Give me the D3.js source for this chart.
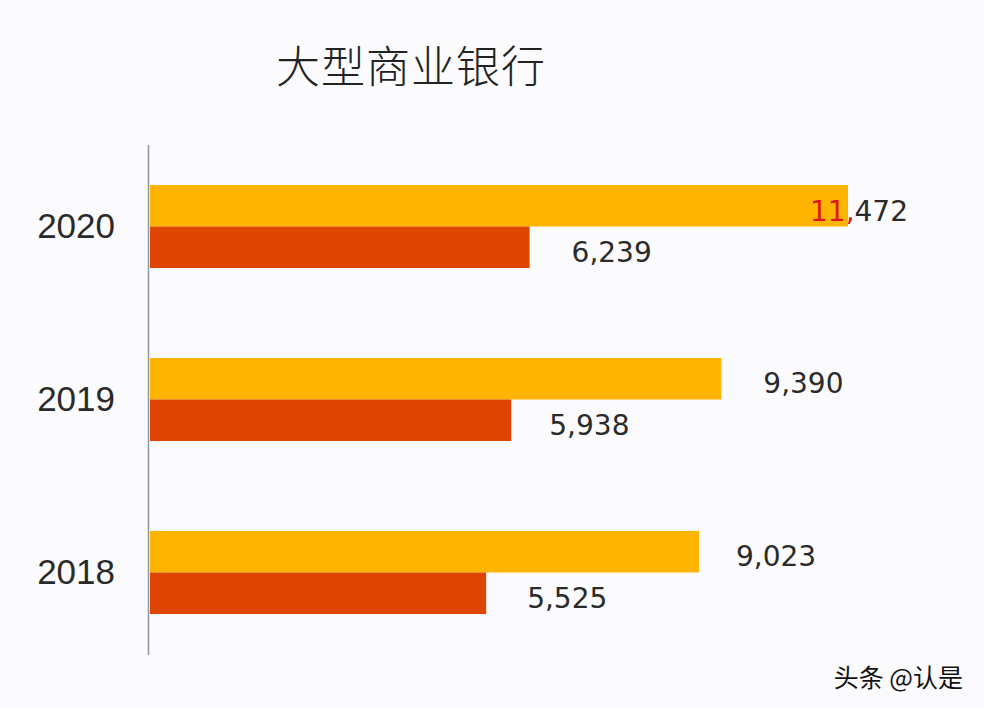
<!DOCTYPE html>
<html>
<head>
<meta charset="utf-8">
<script src="https://cdn.jsdelivr.net/npm/d3@7"></script>
<style>
  html, body { margin: 0; padding: 0; background: #fbfafc; }
  svg { display: block; }
</style>
</head>
<body>
<svg id="chart" width="984" height="708"></svg>
<script>
// ---- data ----
const years = ["2020", "2019", "2018"];
const seriesNames = ["A", "B"];
const seriesA = [11472, 9390, 9023];
const seriesB = [6239, 5938, 5525];
const title = "大型商业银行";
const watermark = "头条 @认是";

// ---- layout (not data) ----
const W = 984, H = 708;
const colors = ["#ffb400", "#de4500"];
const labelDx = [[-38, 42], [42, 38], [37, 41]];

const svg = d3.select("#chart");
svg.append("rect").attr("width", W).attr("height", H).attr("fill", "#fbfafc");

const x = d3.scaleLinear().domain([0, 11472]).range([150, 848]);
const y = d3.scaleBand().domain(years).range([185, 614]).paddingInner(0.52).paddingOuter(0);
const yInner = d3.scaleBand().domain(seriesNames).range([0, y.bandwidth()]);

const fmt = d3.format(",");

// title
svg.append("text")
  .attr("x", 411).attr("y", 64)
  .attr("text-anchor", "middle")
  .attr("dominant-baseline", "central")
  .attr("font-family", "'Noto Sans CJK SC', sans-serif")
  .attr("font-size", 44)
  .attr("font-weight", 300)
  .attr("letter-spacing", 1)
  .attr("fill", "#222")
  .text(title);

// axis line
svg.append("line")
  .attr("x1", 148.5).attr("x2", 148.5)
  .attr("y1", 145).attr("y2", 655)
  .attr("stroke", "#8c98a2").attr("stroke-width", 1.5);

// year labels via axis
const yAxis = svg.append("g")
  .attr("transform", "translate(148,0)")
  .call(d3.axisLeft(y).tickSize(0).tickPadding(33));
yAxis.select(".domain").remove();
yAxis.selectAll("text")
  .attr("font-family", "'Liberation Sans', Arial, sans-serif")
  .attr("font-size", 35)
  .attr("fill", "#2a2a2a");

// bars
const rows = years.map((yr, i) => ({ year: yr, i, vals: [seriesA[i], seriesB[i]] }));

const groups = svg.selectAll("g.grp").data(rows).enter().append("g")
  .attr("class", "grp")
  .attr("transform", d => `translate(0,${y(d.year)})`);

groups.selectAll("rect").data(d => d.vals.map((v, k) => ({ v, k, i: d.i })))
  .enter().append("rect")
  .attr("x", x(0))
  .attr("y", d => yInner(seriesNames[d.k]))
  .attr("width", d => x(d.v) - x(0))
  .attr("height", yInner.bandwidth())
  .attr("fill", d => colors[d.k]);

// value labels
groups.selectAll("text.val").data(d => d.vals.map((v, k) => ({ v, k, i: d.i })))
  .enter().append("text")
  .attr("class", "val")
  .attr("x", d => x(d.v) + labelDx[d.i][d.k])
  .attr("y", d => yInner(seriesNames[d.k]) + yInner.bandwidth() / 2 + 5)
  .attr("dominant-baseline", "central")
  .attr("font-family", "'DejaVu Sans', sans-serif")
  .attr("font-size", 28)
  .attr("fill", "#2a2a2a")
  .each(function(d) {
    const s = fmt(d.v);
    const t = d3.select(this);
    if (d.i === 0 && d.k === 0) {
      t.append("tspan").attr("fill", "#e0141a").text(s.slice(0, 3));
      t.append("tspan").text(s.slice(3));
    } else {
      t.text(s);
    }
  });

// watermark
svg.append("text")
  .attr("x", 963).attr("y", 676)
  .attr("text-anchor", "end")
  .attr("dominant-baseline", "central")
  .attr("font-family", "'Noto Sans CJK SC', sans-serif")
  .attr("font-size", 25)
  .attr("fill", "#111")
  .text(watermark);
</script>
</body>
</html>
